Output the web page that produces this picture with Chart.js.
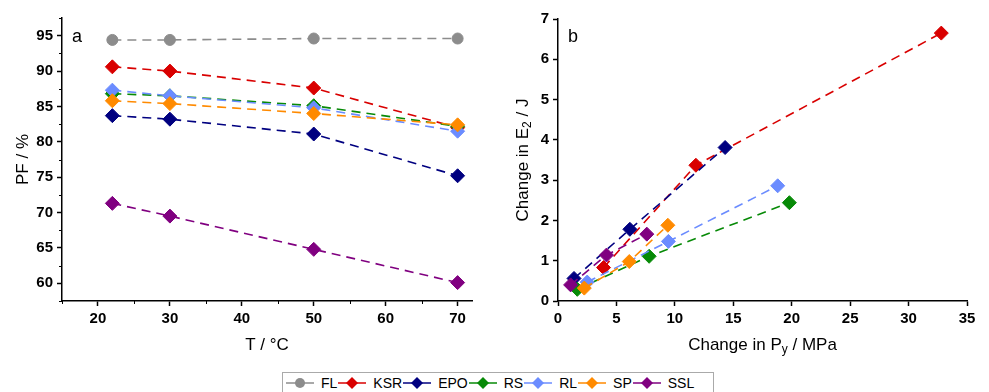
<!DOCTYPE html>
<html>
<head>
<meta charset="utf-8">
<script src="https://cdn.jsdelivr.net/npm/chart.js@4.4.0/dist/chart.umd.min.js"></script>
<style>
  body { margin: 0; background: #fff; width: 989px; height: 392px; overflow: hidden; position: relative; font-family: "Liberation Sans", Arial, sans-serif; }
  #wa { position: absolute; left: 0; top: 0; width: 494px; height: 360px; }
  #wb { position: absolute; left: 494px; top: 0; width: 495px; height: 360px; }
  #legend { position: absolute; left: 282px; top: 372px; width: 428px; height: 19px; border: 1px solid #aaa; display: flex; align-items: center; padding-left: 2px; font-size: 14px; color: #000; }
  #legend span.t { margin-left: 6px; }
  #legend svg { display: block; }
</style>
</head>
<body>
<div id="wa"><canvas id="chartA"></canvas></div>
<div id="wb"><canvas id="chartB"></canvas></div>
<div id="legend"></div>
<script>
// series
const seriesNames = ["FL", "KSR", "EPO", "RS", "RL", "SP", "SSL"];
const seriesColors = ["#8c8c8c", "#d90000", "#000080", "#078a07", "#6b8cff", "#ff8a00", "#800080"];
const seriesShapes = ["circle", "rectRot", "rectRot", "rectRot", "rectRot", "rectRot", "rectRot"];

// panel a: PF / % against T / °C
const tempsC = [22, 30, 50, 70];
const pfFL  = [94.4, 94.4, 94.6, 94.6];
const pfKSR = [90.6, 90.0, 87.6, 82.0];
const pfEPO = [83.7, 83.2, 81.1, 75.2];
const pfRS  = [86.8, 86.5, 85.1, 82.2];
const pfRL  = [87.3, 86.5, 84.8, 81.5];
const pfSP  = [85.8, 85.4, 84.0, 82.4];
const pfSSL = [71.3, 69.5, 64.8, 60.1];

// panel b: change in E2 / J against change in Py / MPa
const dPyKSR = [3.9, 11.8, 32.8];  const dE2KSR = [0.83, 3.37, 6.65];
const dPyEPO = [1.37, 6.15, 14.3]; const dE2EPO = [0.56, 1.78, 3.81];
const dPyRS  = [1.65, 7.8, 19.8];  const dE2RS  = [0.29, 1.11, 2.44];
const dPyRL  = [2.5, 9.45, 18.8];  const dE2RL  = [0.47, 1.48, 2.86];
const dPySP  = [2.25, 6.1, 9.4];   const dE2SP  = [0.32, 0.98, 1.88];
const dPySSL = [1.08, 4.15, 7.6];  const dE2SSL = [0.40, 1.14, 1.66];

// tick labels
const aXTicks = [20, 30, 40, 50, 60, 70];
const aYTicks = [60, 65, 70, 75, 80, 85, 90, 95];
const bXTicks = [0, 5, 10, 15, 20, 25, 30, 35];
const bYTicks = [0, 1, 2, 3, 4, 5, 6, 7];

const FONT = '"Liberation Sans", Arial, sans-serif';

function pts(xs, ys) {
  return xs.map((x, i) => ({ x: x, y: ys[i] }));
}

function makeDataset(idx, data) {
  const round = seriesShapes[idx] === "circle";
  return {
    label: seriesNames[idx],
    data: data,
    showLine: true,
    order: -idx,
    borderColor: seriesColors[idx],
    backgroundColor: seriesColors[idx],
    borderWidth: 1.6,
    borderDash: [9, 6],
    pointStyle: seriesShapes[idx],
    pointRadius: round ? 5.5 : 7,
    pointBorderWidth: 1,
    pointBackgroundColor: seriesColors[idx],
    pointBorderColor: seriesColors[idx],
  };
}

function axis(min, max, ticks, size, isY) {
  return {
    type: "linear",
    min: min,
    max: max,
    afterBuildTicks: (s) => { s.ticks = ticks.map((v) => ({ value: v })); },
    afterFit: (s) => { if (isY) s.width = size; else s.height = size; },
    grid: { drawOnChartArea: false, color: "#000", tickLength: 5, tickWidth: 1.5 },
    border: { color: "#000", width: 1.5 },
    ticks: { color: "#000", padding: 4, autoSkip: false, maxRotation: 0, font: { family: FONT, size: 15, weight: "bold" } },
  };
}

// draws text pieces, some as subscripts
function drawRich(ctx, parts, cx, cy) {
  const big = "17px " + FONT, small = "12px " + FONT;
  let total = 0;
  parts.forEach(([t, sub]) => { ctx.font = sub ? small : big; total += ctx.measureText(t).width; });
  let x = cx - total / 2;
  ctx.textBaseline = "middle";
  ctx.textAlign = "left";
  parts.forEach(([t, sub]) => {
    ctx.font = sub ? small : big;
    ctx.fillText(t, x, sub ? cy + 5 : cy);
    x += ctx.measureText(t).width;
  });
}

const axisTitles = {
  id: "axisTitles",
  afterDraw(chart, args, opts) {
    const ctx = chart.ctx, a = chart.chartArea;
    ctx.save();
    ctx.fillStyle = "#000";
    drawRich(ctx, opts.x, (a.left + a.right) / 2, a.bottom + 44);
    ctx.font = "18px " + FONT;
    ctx.textBaseline = "middle";
    ctx.fillText(opts.letter, a.left + 10, 37);
    ctx.translate(a.left - opts.yGap, (a.top + a.bottom) / 2);
    ctx.rotate(-Math.PI / 2);
    drawRich(ctx, opts.y, 0, 0);
    ctx.restore();
  },
};

const minorTicks = {
  id: "minorTicks",
  afterDraw(chart, args, opts) {
    if (!opts.on) return;
    const ctx = chart.ctx, a = chart.chartArea;
    ctx.save();
    ctx.strokeStyle = "#000";
    ctx.lineWidth = 1;
    ["x", "y"].forEach((id) => {
      const s = chart.scales[id];
      const step = s.ticks[1].value - s.ticks[0].value;
      for (let v = s.ticks[0].value - step / 2; v <= s.max + 1e-9; v += step) {
        if (v < s.min - 1e-9) continue;
        const p = Math.round(s.getPixelForValue(v)) + 0.5;
        ctx.beginPath();
        if (id === "x") { ctx.moveTo(p, a.bottom); ctx.lineTo(p, a.bottom + 3); }
        else { ctx.moveTo(a.left, p); ctx.lineTo(a.left - 3, p); }
        ctx.stroke();
      }
    });
    ctx.restore();
  },
};

const pfSeries = [pfFL, pfKSR, pfEPO, pfRS, pfRL, pfSP, pfSSL];

new Chart(document.getElementById("chartA"), {
  type: "scatter",
  data: { datasets: pfSeries.map((ys, i) => makeDataset(i, pts(tempsC, ys))) },
  options: {
    responsive: true,
    maintainAspectRatio: false,
    animation: false,
    layout: { padding: { left: 0, top: 18, right: 22, bottom: 0 } },
    scales: {
      x: axis(15, 72, aXTicks, 59, false),
      y: axis(57.5, 97.5, aYTicks, 62, true),
    },
    plugins: {
      legend: { display: false },
      tooltip: { enabled: false },
      axisTitles: { x: [["T / °C", 0]], y: [["PF / %", 0]], yGap: 39, letter: "a" },
      minorTicks: { on: true },
    },
  },
  plugins: [axisTitles, minorTicks],
});

const dPy = [dPyKSR, dPyEPO, dPyRS, dPyRL, dPySP, dPySSL];
const dE2 = [dE2KSR, dE2EPO, dE2RS, dE2RL, dE2SP, dE2SSL];

new Chart(document.getElementById("chartB"), {
  type: "scatter",
  data: { datasets: dPy.map((xs, i) => makeDataset(i + 1, pts(xs, dE2[i]))) },
  options: {
    responsive: true,
    maintainAspectRatio: false,
    animation: false,
    layout: { padding: { left: 0, top: 19, right: 22, bottom: 0 } },
    scales: {
      x: axis(0, 35, bXTicks, 59, false),
      y: axis(0, 7, bYTicks, 64, true),
    },
    plugins: {
      legend: { display: false },
      tooltip: { enabled: false },
      axisTitles: {
        x: [["Change in P", 0], ["y", 1], [" / MPa", 0]],
        y: [["Change in E", 0], ["2", 1], [" / J", 0]],
        yGap: 35,
        letter: "b",
      },
      minorTicks: { on: false },
    },
  },
  plugins: [axisTitles, minorTicks],
});

// shared legend underneath
const legend = document.getElementById("legend");
seriesNames.forEach((name, i) => {
  const c = seriesColors[i];
  const mark = seriesShapes[i] === "circle"
    ? `<circle cx="15" cy="9" r="5" fill="${c}"/>`
    : `<polygon points="9,9 15,3 21,9 15,15" fill="${c}"/>`;
  const item = document.createElement("span");
  item.style.display = "flex";
  item.style.alignItems = "center";
  item.innerHTML = `<svg width="30" height="18"><line x1="1" y1="9" x2="29" y2="9" stroke="${c}" stroke-width="1.5"/>${mark}</svg><span class="t">${name}</span>`;
  legend.appendChild(item);
});
</script>
</body>
</html>
